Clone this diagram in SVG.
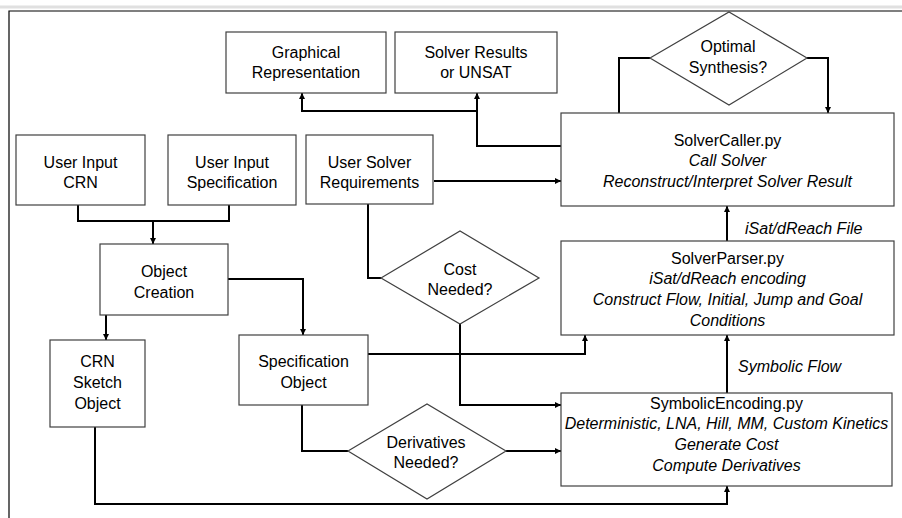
<svg xmlns="http://www.w3.org/2000/svg" width="902" height="518" viewBox="0 0 902 518">
<defs>
<marker id="arr" markerUnits="userSpaceOnUse" markerWidth="7" markerHeight="7" refX="6" refY="3" orient="auto">
<path d="M0,0 L6,3 L0,6 z" fill="#000"/>
</marker>
<style>
.box{fill:#fff;stroke:#404040;stroke-width:1.2}
.c{fill:none;stroke:#000;stroke-width:2}
.a{marker-end:url(#arr)}
text{font-family:"Liberation Sans",Arial,sans-serif;font-size:16px;fill:#000;text-anchor:middle}
.i{font-style:italic}
.l{text-anchor:start}
</style>
</defs>
<rect width="902" height="518" fill="#fff"/>
<line x1="0" y1="7" x2="902" y2="7" stroke="#e0e0e0" stroke-width="3"/>
<polyline points="9,518 9,11 902,11" fill="none" stroke="#000" stroke-width="1.2"/>

<g id="connectors">
<polyline class="c" points="78,205 78,221 229,221 229,205"/>
<polyline class="c a" points="153,221 153,244"/>
<polyline class="c a" points="106,315 106,340"/>
<polyline class="c a" points="228,279 303,279 303,335"/>
<polyline class="c a" points="368,354 585,354 585,335"/>
<polyline class="c" points="302,405 302,451 348,451"/>
<polyline class="c a" points="506,451 561,451"/>
<polyline class="c a" points="95,427 95,504 727,504 727,486"/>
<polyline class="c" points="368,204 368,278 381,278"/>
<polyline class="c a" points="460,324 460,405 561,405"/>
<polyline class="c a" points="434,181 561,181"/>
<polyline class="c a" points="561,146 477,146 477,93"/>
<polyline class="c a" points="477,111 302,111 302,93"/>
<polyline class="c" points="619,113 619,58 650,58"/>
<polyline class="c a" points="807,58 828,58 828,113"/>
<polyline class="c a" points="727,241 727,206"/>
<polyline class="c a" points="727,393 727,335"/>
<text class="i l" x="745" y="234">iSat/dReach File</text>
<text class="i l" x="738" y="372">Symbolic Flow</text>
</g>

<g id="graphical">
<rect class="box" x="226" y="32" width="160" height="61"/>
<text x="306" y="57.5">Graphical</text>
<text x="306" y="78">Representation</text>
</g>
<g id="solver-results">
<rect class="box" x="395" y="32" width="162" height="61"/>
<text x="476" y="57.5">Solver Results</text>
<text x="476" y="78">or UNSAT</text>
</g>
<g id="optimal">
<polygon class="box" points="650,58 729,12 807,58 729,105"/>
<text x="728" y="52">Optimal</text>
<text x="728" y="73">Synthesis?</text>
</g>
<g id="user-crn">
<rect class="box" x="16" y="135" width="129" height="70"/>
<text x="80.5" y="168">User Input</text>
<text x="80.5" y="188">CRN</text>
</g>
<g id="user-spec">
<rect class="box" x="168" y="135" width="128" height="70"/>
<text x="232" y="168">User Input</text>
<text x="232" y="188">Specification</text>
</g>
<g id="user-solver">
<rect class="box" x="306" y="135" width="127" height="69"/>
<text x="369.5" y="168">User Solver</text>
<text x="369.5" y="188">Requirements</text>
</g>
<g id="solvercaller">
<rect class="box" x="561" y="113" width="333" height="93"/>
<text x="727.5" y="145.5">SolverCaller.py</text>
<text class="i" x="727.5" y="165.5">Call Solver</text>
<text class="i" x="727.5" y="186.5">Reconstruct/Interpret Solver Result</text>
</g>
<g id="solverparser">
<rect class="box" x="561" y="241" width="333" height="94"/>
<text x="727.5" y="264">SolverParser.py</text>
<text class="i" x="727.5" y="284">iSat/dReach encoding</text>
<text class="i" x="727.5" y="304.5">Construct Flow, Initial, Jump and Goal</text>
<text class="i" x="727.5" y="325.5">Conditions</text>
</g>
<g id="object-creation">
<rect class="box" x="100" y="244" width="128" height="71"/>
<text x="164" y="277">Object</text>
<text x="164" y="298">Creation</text>
</g>
<g id="cost">
<polygon class="box" points="381,278 460,231 539,278 460,324"/>
<text x="460" y="274.5">Cost</text>
<text x="460" y="295">Needed?</text>
</g>
<g id="crn-sketch">
<rect class="box" x="50" y="340" width="95" height="87"/>
<text x="97.5" y="367">CRN</text>
<text x="97.5" y="388">Sketch</text>
<text x="97.5" y="409">Object</text>
</g>
<g id="spec-object">
<rect class="box" x="239" y="335" width="129" height="70"/>
<text x="303.5" y="367">Specification</text>
<text x="303.5" y="388">Object</text>
</g>
<g id="derivatives">
<polygon class="box" points="348,451 427,404 506,451 427,499"/>
<text x="426" y="448">Derivatives</text>
<text x="426" y="468">Needed?</text>
</g>
<g id="symbolic">
<rect class="box" x="561" y="393" width="331" height="93"/>
<text x="726.5" y="408.5">SymbolicEncoding.py</text>
<text class="i" x="726.5" y="429">Deterministic, LNA, Hill, MM, Custom Kinetics</text>
<text class="i" x="726.5" y="450">Generate Cost</text>
<text class="i" x="726.5" y="471">Compute Derivatives</text>
</g>
</svg>
